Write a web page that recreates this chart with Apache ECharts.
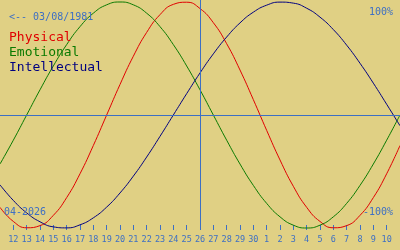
<!DOCTYPE html>
<html><head><meta charset="utf-8">
<script src="https://cdn.jsdelivr.net/npm/echarts@6/dist/echarts.min.js"></script>
<style>html,body{margin:0;padding:0;background:#e0d084;}#c{width:400px;height:250px;}</style>
</head><body><div id="c"></div>
<script>
// Day labels for positions 0..28 (12 April .. 10 May)
const dayLabels = ['12','13','14','15','16','17','18','19','20','21','22','23','24','25','26','27','28','29','30','1','2','3','4','5','6','7','8','9','10'];
// Values (%) for positions -1 .. 29
const physical = [-81.7,-94.2,-99.8,-97.9,-88.8,-73.1,-52.0,-27.0,0,27.0,52.0,73.1,88.8,97.9,99.8,94.2,81.7,63.1,39.8,13.6,-13.6,-39.8,-63.1,-81.7,-94.2,-99.8,-97.9,-88.8,-73.1,-52.0,-27.0];
const emotional = [-43.4,-22.3,0,22.3,43.4,62.3,78.2,90.1,97.5,100,97.5,90.1,78.2,62.3,43.4,22.3,0,-22.3,-43.4,-62.3,-78.2,-90.1,-97.5,-100,-97.5,-90.1,-78.2,-62.3,-43.4,-22.3,0];
const intellectual = [-61.8,-75.6,-86.6,-94.5,-99.0,-99.9,-97.2,-91.0,-81.5,-69.0,-54.1,-37.2,-18.9,0,18.9,37.2,54.1,69.0,81.5,91.0,97.2,99.9,99.0,94.5,86.6,75.6,61.8,45.8,28.2,9.5,-9.5];
const todayIndex = 14;
const startIndex = -1;

const blue = '#3d6fc4';
const mono = '"DejaVu Sans Mono", monospace';
const toPairs = arr => arr.map((v, i) => [i + startIndex, v]);
const tickValues = dayLabels.map((_, i) => i);
const ts = (size, color) => ({fontFamily: mono, fontSize: size, fontWeight: 'normal', color: color});

const chart = echarts.init(document.getElementById('c'));
chart.setOption({
  backgroundColor: '#e0d084',
  animation: false,
  grid: {left: 0, right: 0, top: 0, bottom: 20},
  title: [
    {text: '<-- 03/08/1981', left: 9, top: 12, padding: 0, textStyle: ts(10, blue)},
    {text: 'Physical', left: 9, top: 31, padding: 0, textStyle: ts(13, '#e00000')},
    {text: 'Emotional', left: 9, top: 46, padding: 0, textStyle: ts(13, '#0a7a00')},
    {text: 'Intellectual', left: 9, top: 61, padding: 0, textStyle: ts(13, '#000080')},
    {text: '100%', right: 7, top: 7, padding: 0, textStyle: ts(10, blue)},
    {text: '-100%', right: 7, top: 207, padding: 0, textStyle: ts(10, blue)},
    {text: '04-2026', left: 4, top: 207, padding: 0, textStyle: ts(10, blue)}
  ],
  xAxis: {
    type: 'value', min: -1, max: 29,
    axisLine: {show: false, onZero: false},
    splitLine: {show: false},
    axisTick: {show: true, inside: true, length: 5, lineStyle: {color: blue, width: 1}, customValues: tickValues},
    axisLabel: {show: true, margin: 5, color: blue, fontFamily: mono, fontSize: 8.5,
      customValues: tickValues,
      formatter: v => dayLabels[Math.round(v)] || ''}
  },
  yAxis: {
    type: 'value', min: -101.77, max: 101.77,
    show: false, splitLine: {show: false}
  },
  series: [
    {name: 'Physical', type: 'line', data: toPairs(physical), smooth: true, showSymbol: false,
      lineStyle: {color: '#e00000', width: 1}, z: 3,
      markLine: {silent: true, symbol: 'none', label: {show: false},
        lineStyle: {color: blue, width: 1, type: 'solid'},
        data: [{xAxis: todayIndex}, {yAxis: 0}]}},
    {name: 'Emotional', type: 'line', data: toPairs(emotional), smooth: true, showSymbol: false,
      lineStyle: {color: '#0a7a00', width: 1}, z: 3},
    {name: 'Intellectual', type: 'line', data: toPairs(intellectual), smooth: true, showSymbol: false,
      lineStyle: {color: '#000080', width: 1}, z: 3}
  ]
});
</script></body></html>
